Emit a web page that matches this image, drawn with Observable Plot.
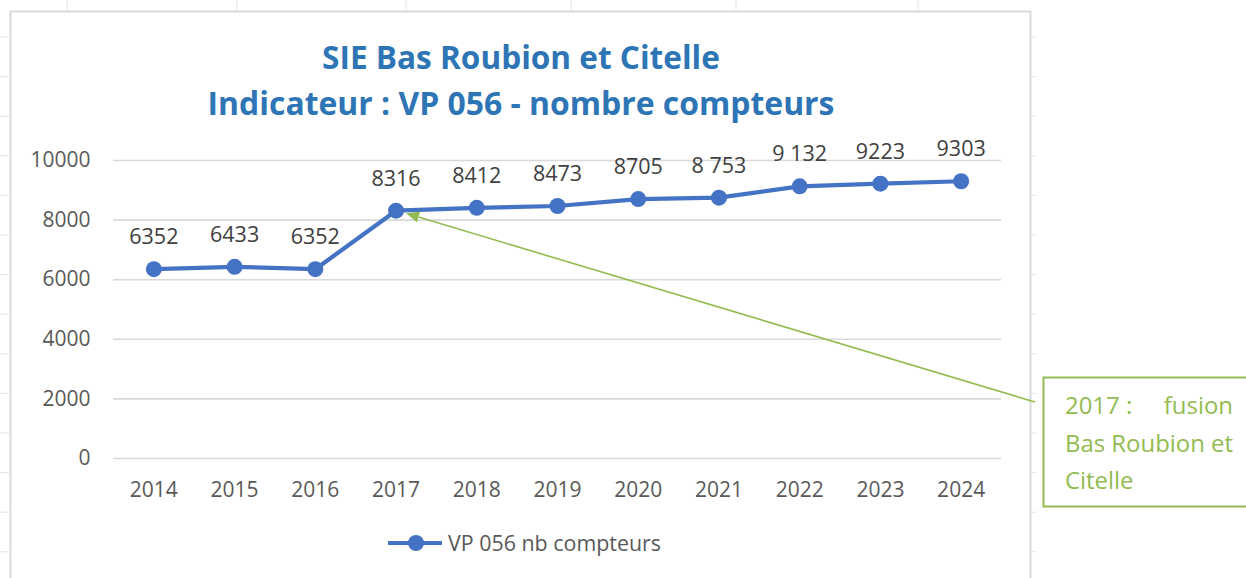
<!DOCTYPE html>
<html>
<head>
<meta charset="utf-8">
<script src="https://cdn.jsdelivr.net/npm/d3@7"></script>
<script src="https://cdn.jsdelivr.net/npm/@observablehq/plot@0.6"></script>
<style>
  html, body { margin: 0; padding: 0; background: #fff; }
  #wrap { position: relative; width: 1246px; height: 578px; overflow: hidden; background: #fff; }
  #wrap > svg { position: absolute; left: 0; top: 0; }
</style>
</head>
<body>
<div id="wrap"></div>
<script>
// ---- data ----
const years = ["2014","2015","2016","2017","2018","2019","2020","2021","2022","2023","2024"];
const values = [6352, 6433, 6352, 8316, 8412, 8473, 8705, 8753, 9132, 9223, 9303];
const valueLabels = ["6352","6433","6352","8316","8412","8473","8705","8 753","9 132","9223","9303"];
const yTicks = [0, 2000, 4000, 6000, 8000, 10000];
const titleLines = ["SIE Bas Roubion et Citelle", "Indicateur : VP 056 - nombre compteurs"];
const seriesName = "VP 056 nb compteurs";
const noteYear = "2017";
const noteLine1 = ["2017 :", "fusion"];
const noteLines = ["Bas Roubion et", "Citelle"];

const data = years.map((year, i) => ({year, value: values[i], label: valueLabels[i]}));

const FONT = "'Open Sans', 'Noto Sans', sans-serif";
const BLUE = "#4472c4";
const TITLE = "#2e75b6";
const GREEN = "#92bb51";
const GREY = "#595959";

const plot = Plot.plot({
  width: 1246,
  height: 578,
  marginLeft: 113,
  marginRight: 245,
  marginTop: 160,
  marginBottom: 120,
  style: {fontFamily: FONT, fontSize: "21px", background: "transparent", color: GREY, overflow: "visible"},
  x: {type: "point", domain: years, padding: 0.5, round: false},
  y: {domain: [0, 10000]},
  marks: [
    Plot.ruleY(yTicks, {stroke: "#d9d9d9", strokeWidth: 1.6, strokeOpacity: 1}),
    Plot.axisY({ticks: yTicks, tickSize: 0, tickPadding: 23, tickFormat: d => String(d), fill: GREY, fontSize: 21, label: null}),
    Plot.axisX({tickSize: 0, tickPadding: 24, fill: GREY, fontSize: 21, label: null}),
    Plot.line(data, {x: "year", y: "value", stroke: BLUE, strokeWidth: 4.2}),
    Plot.dot(data, {x: "year", y: "value", r: 8, fill: BLUE, stroke: "none"}),
    Plot.text(data, {x: "year", y: "value", text: "label", dy: -32, fill: "#404040", fontSize: 21.5})
  ]
});

const wrap = document.getElementById("wrap");
wrap.appendChild(plot);

// ---- overlay: frame, titles, legend, annotation ----
const W = 1246, H = 578;
const ov = d3.select(wrap).append("svg")
  .attr("width", W).attr("height", H)
  .style("font-family", FONT);

// faint spreadsheet cell lines peeking around the chart
const cellYs = d3.range(37, H, 39.6);
ov.selectAll("line.cl").data(cellYs).join("line")
  .attr("x1", 0).attr("x2", 9).attr("y1", d => d).attr("y2", d => d)
  .attr("stroke", "#e3e3e3").attr("stroke-width", 1);
ov.selectAll("line.cr").data(cellYs).join("line")
  .attr("x1", 1031).attr("x2", 1036).attr("y1", d => d).attr("y2", d => d)
  .attr("stroke", "#e3e3e3").attr("stroke-width", 1);
ov.selectAll("line.ct").data([67, 237, 406, 571, 736, 918]).join("line")
  .attr("x1", d => d).attr("x2", d => d).attr("y1", 0).attr("y2", 10)
  .attr("stroke", "#e3e3e3").attr("stroke-width", 1);

// chart area border
ov.append("rect").attr("x", 10.5).attr("y", 11.5).attr("width", 1020).attr("height", 620)
  .attr("fill", "none").attr("stroke", "#d9d9d9").attr("stroke-width", 2);

function fit(sel, target) {
  const node = sel.node();
  let fs = parseFloat(sel.attr("font-size"));
  for (let k = 0; k < 4; k++) {
    const w = node.getComputedTextLength();
    if (w > 0) fs = fs * target / w;
    sel.attr("font-size", fs);
  }
  return fs;
}

// titles
const t1 = ov.append("text").attr("x", 521).attr("y", 69).attr("text-anchor", "middle")
  .attr("font-weight", "bold").attr("font-size", 30).attr("fill", TITLE).text(titleLines[0]);
const t2 = ov.append("text").attr("x", 521).attr("y", 115).attr("text-anchor", "middle")
  .attr("font-weight", "bold").attr("font-size", 30).attr("fill", TITLE).text(titleLines[1]);
fit(t1, 398);
fit(t2, 627);

// legend
const lg = ov.append("g");
lg.append("line").attr("x1", 388).attr("x2", 442).attr("y1", 543).attr("y2", 543)
  .attr("stroke", BLUE).attr("stroke-width", 4.2);
lg.append("circle").attr("cx", 416).attr("cy", 543).attr("r", 8).attr("fill", BLUE);
const lt = lg.append("text").attr("x", 448).attr("y", 551).attr("font-size", 21)
  .attr("fill", GREY).text(seriesName);
fit(lt, 213);

// annotation box
ov.append("rect").attr("x", 1043.5).attr("y", 377.5).attr("width", 240).attr("height", 129)
  .attr("fill", "#fff").attr("stroke", GREEN).attr("stroke-width", 2);
const n2 = ov.append("text").attr("x", 1065).attr("y", 452).attr("font-size", 23)
  .attr("fill", GREEN).text(noteLines[0]);
const nfs = fit(n2, 168);
ov.append("text").attr("x", 1065).attr("y", 414).attr("font-size", nfs).attr("fill", GREEN).text(noteLine1[0]);
ov.append("text").attr("x", 1233).attr("y", 414).attr("font-size", nfs).attr("text-anchor", "end").attr("fill", GREEN).text(noteLine1[1]);
ov.append("text").attr("x", 1065).attr("y", 489).attr("font-size", nfs).attr("fill", GREEN).text(noteLines[1]);

// arrow from box to the 2017 point (start computed through the plot's scales)
const sx = plot.scale("x"), sy = plot.scale("y");
const i17 = years.indexOf(noteYear);
const px = sx.apply(noteYear), py = sy.apply(values[i17]);
const ex = 1035, ey = 402;
const dx = ex - px, dy = ey - py, len = Math.hypot(dx, dy);
const ux = dx / len, uy = dy / len;
const tipX = px + ux * 11, tipY = py + uy * 11;
const headL = 13, headW = 5.5;
const bx = tipX + ux * headL, by = tipY + uy * headL;
ov.append("line").attr("x1", ex).attr("y1", ey).attr("x2", bx).attr("y2", by)
  .attr("stroke", GREEN).attr("stroke-width", 1.6);
ov.append("polygon")
  .attr("points", [
    [tipX, tipY],
    [bx - uy * headW, by + ux * headW],
    [bx + uy * headW, by - ux * headW]
  ].map(p => p.join(",")).join(" "))
  .attr("fill", GREEN);
</script>
</body>
</html>
